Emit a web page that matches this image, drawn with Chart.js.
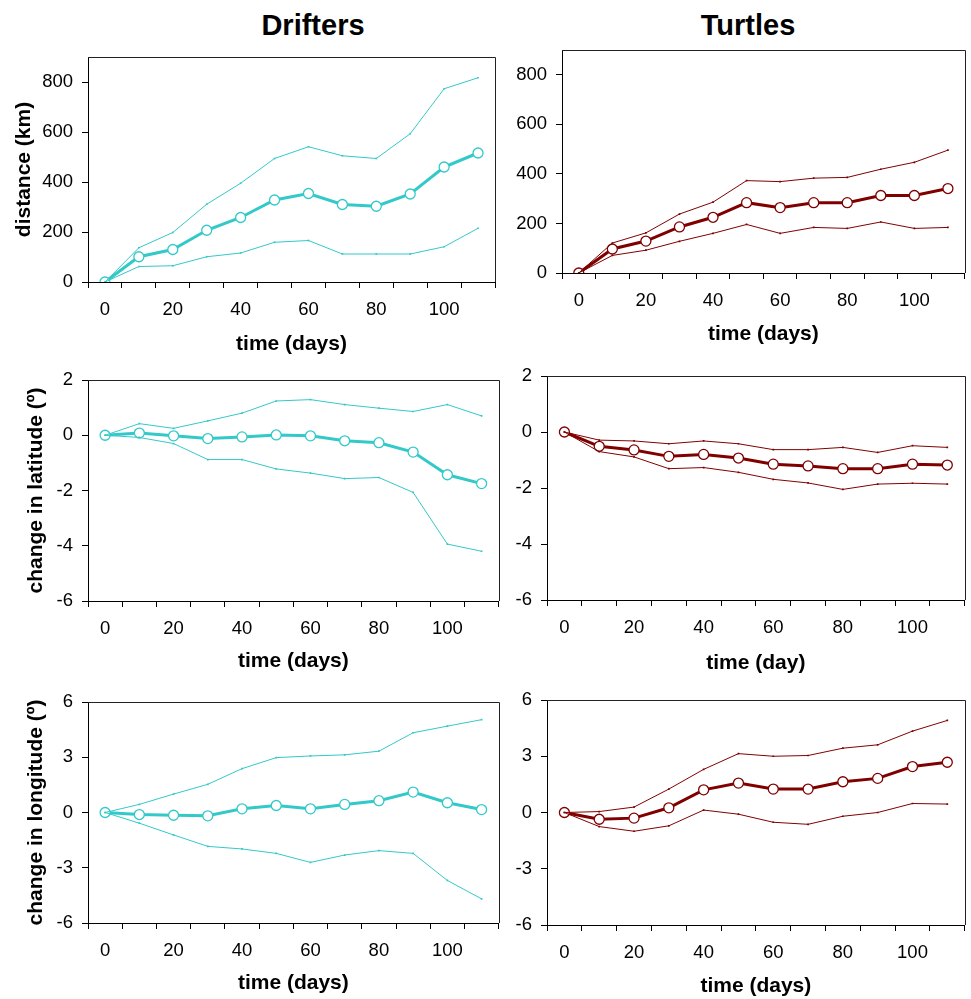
<!DOCTYPE html>
<html>
<head>
<meta charset="utf-8">
<title>Drifters y Turtles</title>
<script src="https://cdn.jsdelivr.net/npm/chart.js@4.4.0/dist/chart.umd.min.js"></script>
<style>
    body { margin: 0; background: #fff; }
    #pagina { position: relative; width: 971px; height: 999px; font-family: 'Liberation Sans', Arial, sans-serif; }
    .titulo-columna { position: absolute; top: 8px; font-weight: bold; font-size: 29px; line-height: 34px; transform: translateX(-50%); color: #000; }
    canvas { position: absolute; }
</style>
</head>
<body>
<div id="pagina">
    <div class="titulo-columna" style="left:313px">Drifters</div>
    <div class="titulo-columna" style="left:748px">Turtles</div>
    <canvas id="p1"></canvas>
    <canvas id="p2"></canvas>
    <canvas id="p3"></canvas>
    <canvas id="p4"></canvas>
    <canvas id="p5"></canvas>
    <canvas id="p6"></canvas>
</div>
<script>
// Categorías del eje x (días) y las que llevan etiqueta
var dias = ['0', '10', '20', '30', '40', '50', '60', '70', '80', '90', '100', '110'];
var diasConEtiqueta = ['0', '20', '40', '60', '80', '100'];

// Marcas de los ejes y
var ticksDistancia = [0, 200, 400, 600, 800];
var ticksLatitud = [-6, -4, -2, 0, 2];
var ticksLongitud = [-6, -3, 0, 3, 6];

// Drifters: distancia (km)
var drifterDistMedia = [0, 101, 130, 207, 258, 328, 354, 310, 303, 352, 460, 516];
var drifterDistSup = [0, 137, 198, 311, 395, 494, 541, 505, 494, 593, 773, 817];
var drifterDistInf = [0, 62, 65, 101, 116, 159, 166, 112, 112, 112, 141, 215];

// Turtles: distancia (km)
var turtleDistMedia = [0, 97, 129, 186, 225, 284, 264, 284, 284, 313, 313, 341];
var turtleDistSup = [0, 121, 162, 238, 286, 373, 369, 383, 386, 419, 447, 496];
var turtleDistInf = [0, 71, 92, 128, 160, 196, 160, 184, 180, 206, 180, 184];

// Drifters: cambio en latitud
var drifterLatMedia = [0, 0.08, -0.02, -0.12, -0.06, 0.01, -0.02, -0.2, -0.27, -0.61, -1.43, -1.75];
var drifterLatSup = [0, 0.42, 0.25, 0.52, 0.8, 1.24, 1.29, 1.11, 0.98, 0.86, 1.11, 0.7];
var drifterLatInf = [0, -0.08, -0.3, -0.88, -0.88, -1.22, -1.37, -1.57, -1.53, -2.07, -3.94, -4.2];

// Turtles: cambio en latitud
var turtleLatMedia = [0, -0.51, -0.64, -0.87, -0.8, -0.93, -1.15, -1.21, -1.31, -1.31, -1.15, -1.18];
var turtleLatSup = [0, -0.29, -0.32, -0.42, -0.32, -0.42, -0.63, -0.63, -0.55, -0.73, -0.49, -0.55];
var turtleLatInf = [0, -0.7, -0.89, -1.31, -1.27, -1.44, -1.69, -1.82, -2.05, -1.86, -1.83, -1.86];

// Drifters: cambio en longitud
var drifterLonMedia = [0, -0.11, -0.15, -0.18, 0.2, 0.38, 0.2, 0.44, 0.64, 1.11, 0.53, 0.16];
var drifterLonSup = [0, 0.44, 1.0, 1.53, 2.38, 2.98, 3.07, 3.13, 3.33, 4.33, 4.69, 5.04];
var drifterLonInf = [0, -0.58, -1.22, -1.84, -1.98, -2.22, -2.71, -2.31, -2.07, -2.22, -3.69, -4.69];

// Turtles: cambio en longitud
var turtleLonMedia = [0, -0.36, -0.3, 0.25, 1.21, 1.57, 1.25, 1.25, 1.64, 1.82, 2.45, 2.68];
var turtleLonSup = [0, 0.05, 0.29, 1.25, 2.3, 3.14, 3.0, 3.04, 3.43, 3.61, 4.34, 4.91];
var turtleLonInf = [0, -0.75, -1.0, -0.71, 0.13, -0.09, -0.52, -0.63, -0.2, 0.0, 0.48, 0.45];

var colorDrifter = '#33c9c9';
var colorTurtle = '#800000';

Chart.defaults.font.family = "'Liberation Sans', Arial, sans-serif";
Chart.defaults.color = '#000';

// Dibuja los lados superior y derecho del marco
var marcoCompleto = {
    id: 'marcoCompleto',
    afterDraw: function(grafico) {
        var a = grafico.chartArea;
        var ctx = grafico.ctx;
        ctx.save();
        ctx.strokeStyle = '#222';
        ctx.lineWidth = 1;
        ctx.beginPath();
        ctx.moveTo(a.left, Math.round(a.top) + 0.5);
        ctx.lineTo(Math.round(a.right) + 0.5, Math.round(a.top) + 0.5);
        ctx.lineTo(Math.round(a.right) + 0.5, a.bottom);
        ctx.stroke();
        ctx.restore();
    }
};

// Serie de la media (gruesa con círculos) o de los límites (fina)
function serie(datos, color, esMedia) {
    if (esMedia) {
        return {
            data: datos, borderColor: color, borderWidth: 3, tension: 0,
            pointRadius: 5, pointBackgroundColor: '#fff', pointBorderColor: color, pointBorderWidth: 1.3
        };
    }
    return {
        data: datos, borderColor: color, borderWidth: 1, tension: 0,
        pointRadius: 1.2, pointStyle: 'rect', pointBackgroundColor: color, pointBorderColor: color, pointBorderWidth: 0
    };
}

// Crea un panel: caja del canvas, área del gráfico y posiciones de los títulos
function crearPanel(p) {
    var canvas = document.getElementById(p.id);
    canvas.width = p.caja.w;
    canvas.height = p.caja.h;
    canvas.style.left = p.caja.x + 'px';
    canvas.style.top = p.caja.y + 'px';

    var anchoY = p.area.l - p.caja.x;
    var altoX = p.caja.y + p.caja.h - p.area.b;
    var tamTitulo = 21;

    var config = {
        type: 'line',
        data: {
            labels: dias,
            datasets: [
                serie(p.sup, p.color, false),
                serie(p.inf, p.color, false),
                serie(p.media, p.color, true)
            ]
        },
        options: {
            responsive: false,
            animation: false,
            layout: { padding: { left: 0, bottom: 0, top: p.area.t - p.caja.y, right: p.caja.x + p.caja.w - p.area.r } },
            plugins: { legend: { display: false }, tooltip: { enabled: false } },
            scales: {
                x: {
                    type: 'category',
                    offset: true,
                    grid: { offset: true, drawOnChartArea: false, drawTicks: true, tickLength: 6, color: '#000' },
                    border: { display: true, color: '#000', width: 1 },
                    ticks: {
                        autoSkip: false, maxRotation: 0, padding: 11,
                        font: { size: 18.5 },
                        callback: function(valor, indice) {
                            return diasConEtiqueta.indexOf(dias[indice]) >= 0 ? dias[indice] : '';
                        }
                    },
                    title: {
                        display: true, text: p.tituloX,
                        font: { size: tamTitulo, weight: 'bold', lineHeight: 1 },
                        padding: { top: 0, bottom: (p.caja.y + p.caja.h) - p.tituloXy - tamTitulo / 2 }
                    },
                    afterFit: function(escala) { escala.height = altoX; }
                },
                y: {
                    type: 'linear',
                    min: p.min, max: p.max,
                    grid: { drawOnChartArea: false, drawTicks: true, tickLength: 6, color: '#000' },
                    border: { display: true, color: '#000', width: 1 },
                    ticks: { padding: 9, font: { size: 18.5 } },
                    afterBuildTicks: function(escala) {
                        escala.ticks = p.ticks.map(function(v) { return { value: v }; });
                    },
                    title: {
                        display: !!p.tituloY, text: p.tituloY || '',
                        font: { size: tamTitulo, weight: 'bold', lineHeight: 1 },
                        padding: { top: (p.tituloYx || 0) - p.caja.x - tamTitulo / 2, bottom: 0 }
                    },
                    afterFit: function(escala) { escala.width = anchoY; }
                }
            }
        },
        plugins: [marcoCompleto]
    };

    new Chart(canvas.getContext('2d'), config);
}

var paneles = [
    { id: 'p1', caja: { x: 0, y: 30, w: 505, h: 325 }, area: { l: 88, t: 57, r: 495, b: 282 },
      media: drifterDistMedia, sup: drifterDistSup, inf: drifterDistInf, color: colorDrifter,
      min: 0, max: 900, ticks: ticksDistancia, tituloX: 'time (days)', tituloXy: 344, tituloY: 'distance (km)', tituloYx: 24 },
    { id: 'p2', caja: { x: 505, y: 30, w: 466, h: 325 }, area: { l: 562, t: 47, r: 969, b: 273 },
      media: turtleDistMedia, sup: turtleDistSup, inf: turtleDistInf, color: colorTurtle,
      min: 0, max: 900, ticks: ticksDistancia, tituloX: 'time (days)', tituloXy: 334 },
    { id: 'p3', caja: { x: 0, y: 355, w: 505, h: 320 }, area: { l: 88, t: 380, r: 500, b: 601 },
      media: drifterLatMedia, sup: drifterLatSup, inf: drifterLatInf, color: colorDrifter,
      min: -6, max: 2, ticks: ticksLatitud, tituloX: 'time (days)', tituloXy: 661, tituloY: 'change in latitude (º)', tituloYx: 36 },
    { id: 'p4', caja: { x: 505, y: 355, w: 466, h: 320 }, area: { l: 547, t: 376, r: 969, b: 600 },
      media: turtleLatMedia, sup: turtleLatSup, inf: turtleLatInf, color: colorTurtle,
      min: -6, max: 2, ticks: ticksLatitud, tituloX: 'time (day)', tituloXy: 663 },
    { id: 'p5', caja: { x: 0, y: 675, w: 505, h: 324 }, area: { l: 88, t: 702, r: 500, b: 923 },
      media: drifterLonMedia, sup: drifterLonSup, inf: drifterLonInf, color: colorDrifter,
      min: -6, max: 6, ticks: ticksLongitud, tituloX: 'time (days)', tituloXy: 983, tituloY: 'change in longitude (º)', tituloYx: 36 },
    { id: 'p6', caja: { x: 505, y: 675, w: 466, h: 324 }, area: { l: 547, t: 700, r: 969, b: 925 },
      media: turtleLonMedia, sup: turtleLonSup, inf: turtleLonInf, color: colorTurtle,
      min: -6, max: 6, ticks: ticksLongitud, tituloX: 'time (days)', tituloXy: 986 }
];

paneles.forEach(crearPanel);
</script>
</body>
</html>
